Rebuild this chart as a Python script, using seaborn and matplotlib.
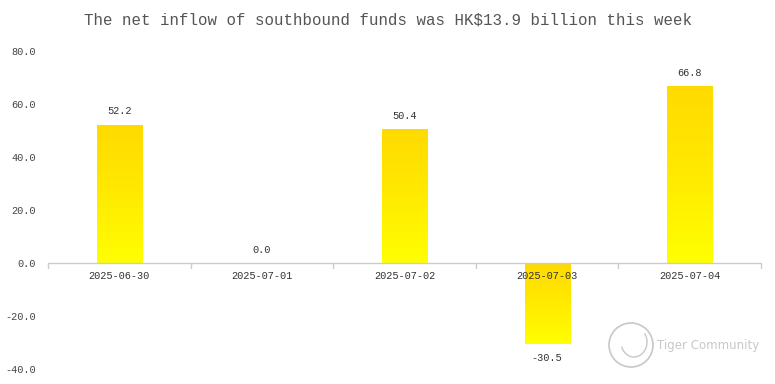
import numpy as np
import pandas as pd
import matplotlib
matplotlib.use("Agg")
import matplotlib.pyplot as plt
import seaborn as sns
from matplotlib.colors import LinearSegmentedColormap
from matplotlib.patches import Circle, Arc

dates = ["2025-06-30", "2025-07-01", "2025-07-02", "2025-07-03", "2025-07-04"]
values = [52.2, 0.0, 50.4, -30.5, 66.8]
title = "The net inflow of southbound funds was HK$13.9 billion this week"
yticks = [-40, -20, 0, 20, 40, 60, 80]

sns.set_theme(style="white")
plt.rcParams['font.family'] = ['Liberation Mono', 'DejaVu Sans Mono']

W, H = 775, 384
fig = plt.figure(figsize=(W / 100, H / 100), dpi=100)
ax = fig.add_axes([48 / W, (H - 369) / H, (761 - 48) / W, (369 - 51) / H])

df = pd.DataFrame({"date": dates, "value": values})
sns.barplot(data=df, x="date", y="value", ax=ax, color="#FFD700", width=0.316,
            saturation=1)

ax.set_ylim(-40, 80)
ax.set_xlim(-0.5, len(dates) - 0.5)

cmap = LinearSegmentedColormap.from_list("g", ["#FFFF00", "#FFEA00", "#FFDA00"])
grad = np.linspace(0, 1, 256).reshape(-1, 1)
for p in ax.patches:
    x0, y0 = p.get_x(), p.get_y()
    w, h = p.get_width(), p.get_height()
    if h == 0:
        continue
    lo, hi = min(y0, y0 + h), max(y0, y0 + h)
    im = ax.imshow(grad, cmap=cmap, aspect="auto", origin="lower",
                   extent=[x0, x0 + w, lo, hi], zorder=p.get_zorder() + 0.1)
    im.set_clip_path(p)
ax.set_xlim(-0.5, len(dates) - 0.5)
ax.set_ylim(-40, 80)

# value labels
for i, v in enumerate(values):
    if v >= 0:
        ax.annotate(f"{v:.1f}", (i, v), xytext=(0, 6), textcoords="offset points",
                    ha="center", va="bottom", fontsize=7.4, color="#333333")
    else:
        ax.annotate(f"{v:.1f}", (i, v), xytext=(0, -6.5), textcoords="offset points",
                    ha="center", va="top", fontsize=7.4, color="#333333")

for s in ["left", "right", "top", "bottom"]:
    ax.spines[s].set_visible(False)
ax.axhline(0, color="#CCCCCC", lw=1, zorder=5)
# category boundary ticks on the zero line
for b in np.arange(-0.5, len(dates), 1.0):
    ax.plot([b, b], [0, -1.9], color="#CCCCCC", lw=1, zorder=5, clip_on=False)

ax.set_yticks(yticks)
ax.set_yticklabels([f"{t:.1f}" for t in yticks], fontsize=7.4, color="#444444")
ax.tick_params(axis="y", length=0, pad=9)
ax.set_xticks([])
ax.set_xlabel("")
ax.set_ylabel("")
for i, d in enumerate(dates):
    ax.text(i, -3.0, d, ha="center", va="top", fontsize=7.4, color="#333333", zorder=6)

fig.text(0.5, 1 - 20 / H, title, ha="center", va="center", fontsize=11.3,
         color="#555555")

# watermark
fig.text(657 / W, 1 - 346 / H, "Tiger Community", ha="left", va="center",
         fontsize=8.5, color="#C8C8C8", family="DejaVu Sans")
fig.add_artist(Circle((631, H - 345), 22, transform=None,
                      fill=False, ec="#C8C8C8", lw=1.2))
fig.add_artist(Arc((634, H - 342), 26, 30, angle=0, theta1=200, theta2=40,
                   transform=None, ec="#C8C8C8", lw=1.0))

fig.savefig("out.png", dpi=100)
